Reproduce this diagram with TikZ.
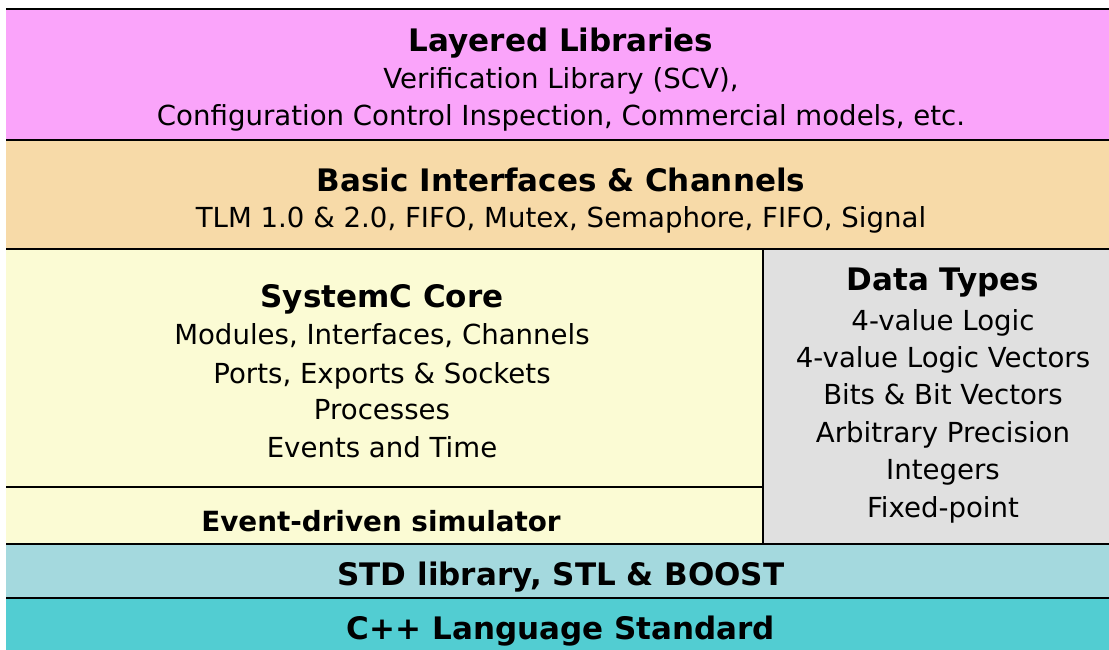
\documentclass[tikz,border=0pt]{standalone}
\usepackage{fontspec}
\setmainfont{DejaVu Sans}
\begin{document}
\begin{tikzpicture}[x=1pt,y=-1pt,
  rule/.style={line width=2.8pt,black},
  txt/.style={anchor=base,inner sep=0pt,font=\fontsize{27.6}{30}\selectfont},
  head/.style={anchor=base,inner sep=0pt,font=\fontsize{31}{34}\selectfont\bfseries},
  subhead/.style={anchor=base,inner sep=0pt,font=\fontsize{27.8}{30}\selectfont\bfseries}]
\definecolor{libpink}{RGB}{250,164,250}
\definecolor{chanorange}{RGB}{247,218,168}
\definecolor{coreyellow}{RGB}{251,251,212}
\definecolor{typegray}{RGB}{224,224,224}
\definecolor{stdblue}{RGB}{164,217,222}
\definecolor{cppteal}{RGB}{82,205,210}
\useasboundingbox (0,0) rectangle (1109,650);
% layer fills
\fill[libpink]    (6,9)    rectangle (1109,140);
\fill[chanorange] (6,140)  rectangle (1109,249);
\fill[coreyellow] (6,249)  rectangle (763,544);
\fill[typegray]   (763,249) rectangle (1109,544);
\fill[stdblue]    (6,544)  rectangle (1109,598);
\fill[cppteal]    (6,598)  rectangle (1109,650);
% separating rules
\draw[rule] (6,9) -- (1109,9);
\draw[rule] (6,140) -- (1109,140);
\draw[rule] (6,249) -- (1109,249);
\draw[rule] (6,487) -- (763,487);
\draw[rule] (763,249) -- (763,544);
\draw[rule] (6,544) -- (1109,544);
\draw[rule] (6,598) -- (1109,598);
% Layered Libraries
\node[head] (libT) at (561,52) {Layered Libraries};
\node[txt]  (lib1) at (561,89) {Verification Library (SCV),};
\node[txt]  (lib2) at (561,126) {Configuration Control Inspection, Commercial models, etc.};
% Basic Interfaces & Channels
\node[head] (chT) at (561,191) {Basic Interfaces \& Channels};
\node[txt]  (ch1) at (561,227) {TLM 1.0 \& 2.0, FIFO, Mutex, Semaphore, FIFO, Signal};
% SystemC Core
\node[head] (coreT) at (382,307) {SystemC Core};
\node[txt]  (core1) at (382,344) {Modules, Interfaces, Channels};
\node[txt]  (core2) at (382,383) {Ports, Exports \& Sockets};
\node[txt]  (core3) at (382,419) {Processes};
\node[txt]  (core4) at (382,457) {Events and Time};
\node[subhead] (sim) at (381,531) {Event-driven simulator};
% Data Types
\node[head] (dtT) at (943,290) {Data Types};
\node[txt]  (dt1) at (943,330) {4-value Logic};
\node[txt]  (dt2) at (943,367) {4-value Logic Vectors};
\node[txt]  (dt3) at (943,404) {Bits \& Bit Vectors};
\node[txt]  (dt4) at (943,442) {Arbitrary Precision};
\node[txt]  (dt5) at (943,479) {Integers};
\node[txt]  (dt6) at (943,517) {Fixed-point};
% bottom layers
\node[head] (stdT) at (561,585) {STD library, STL \& BOOST};
\node[head] (cppT) at (561,639) {C++ Language Standard};
\end{tikzpicture}
\end{document}
